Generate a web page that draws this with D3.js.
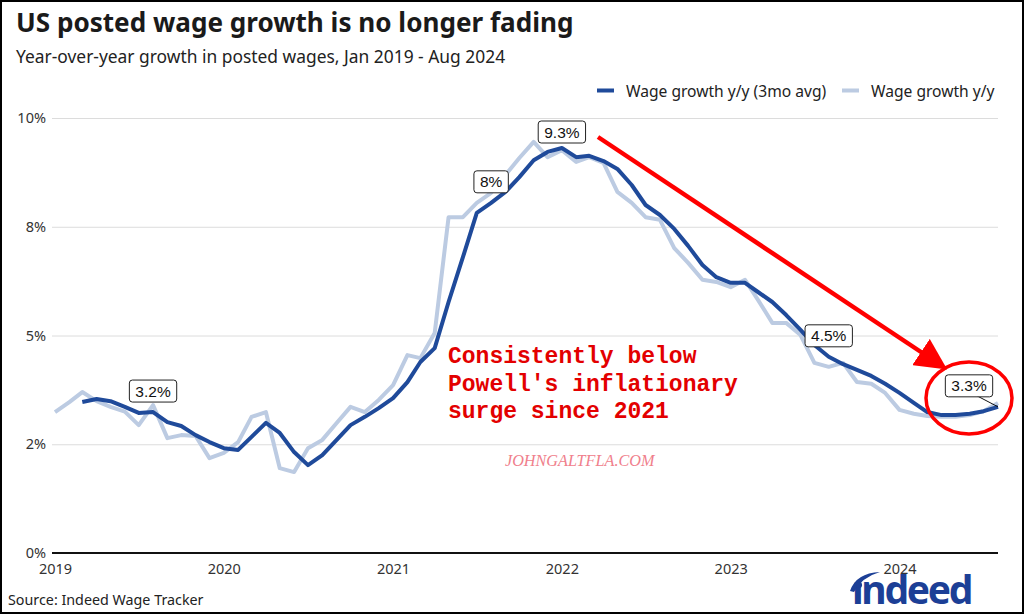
<!DOCTYPE html>
<html>
<head>
<meta charset="utf-8">
<script src="https://cdn.jsdelivr.net/npm/d3@7"></script>
<style>
  body { margin: 0; background: #fff; }
  svg { display: block; font-family: "Noto Sans", "Open Sans", sans-serif; }
</style>
</head>
<body>
<svg id="chart" width="1024" height="614"></svg>
<script>
// --- data ---
const startMonth = "2019-01";
const endMonth = "2024-08";

// monthly y/y posted wage growth, Jan 2019 - Aug 2024
const wageYoY = [3.24, 3.47, 3.70, 3.49, 3.36, 3.25, 2.94, 3.40, 2.64, 2.71, 2.69, 2.18,
  2.30, 2.55, 3.13, 3.24, 1.95, 1.86, 2.41, 2.60, 2.99, 3.36, 3.24, 3.52,
  3.86, 4.55, 4.48, 5.06, 7.72, 7.72, 8.05, 8.28, 8.69, 9.08, 9.45, 9.10,
  9.26, 8.99, 9.10, 8.97, 8.30, 8.05, 7.72, 7.66, 7.01, 6.67, 6.28, 6.23,
  6.11, 6.28, 5.82, 5.29, 5.29, 5.01, 4.37, 4.28, 4.37, 3.93, 3.89, 3.68,
  3.29, 3.20, 3.15, 3.13, 3.13, 3.17, 3.26, 3.45];

// 3-month average (starts Mar 2019)
const wage3mo = [null, null, 3.47, 3.54, 3.49, 3.36, 3.22, 3.24, 3.01, 2.92, 2.71, 2.55,
  2.41, 2.37, 2.67, 2.99, 2.76, 2.32, 2.02, 2.25, 2.60, 2.94, 3.13, 3.33,
  3.56, 3.93, 4.39, 4.71, 5.77, 6.80, 7.82, 8.05, 8.30, 8.64, 9.03, 9.22,
  9.31, 9.10, 9.13, 9.01, 8.83, 8.46, 8.00, 7.77, 7.45, 7.06, 6.62, 6.34,
  6.21, 6.21, 6.00, 5.77, 5.47, 5.13, 4.78, 4.51, 4.34, 4.21, 4.07, 3.89,
  3.68, 3.45, 3.24, 3.17, 3.17, 3.20, 3.26, 3.36];

const yTicks = [0, 2.5, 5, 7.5, 10];
const yTickLabels = ["0%", "2%", "5%", "8%", "10%"];

const calloutMonths = ["2019-08", "2021-08", "2022-01", "2023-08", "2024-08"];
const calloutTexts = ["3.2%", "8%", "9.3%", "4.5%", "3.3%"];

const legendNames = ["Wage growth y/y (3mo avg)", "Wage growth y/y"];
const legendColors = ["#1f4a9a", "#bccbe2"];

// --- setup ---
const parseMonth = d3.timeParse("%Y-%m");
const months = d3.timeMonth.range(parseMonth(startMonth), d3.timeMonth.offset(parseMonth(endMonth), 1));

const svg = d3.select("#chart");

const x = d3.scaleTime()
  .domain([parseMonth(startMonth), parseMonth(endMonth)])
  .range([55, 998]);

const y = d3.scaleLinear()
  .domain([0, 10])
  .range([553, 118]);

// title + subtitle
svg.append("text")
  .attr("x", 16).attr("y", 32)
  .attr("font-size", 26.1).attr("font-weight", 700).attr("fill", "#1a1a1a")
  .text("US posted wage growth is no longer fading");

svg.append("text")
  .attr("x", 16).attr("y", 63)
  .attr("font-size", 17.4).attr("fill", "#222")
  .text("Year-over-year growth in posted wages, Jan 2019 - Aug 2024");

// y grid + labels
const yAxis = svg.append("g")
  .attr("transform", "translate(52,0)")
  .call(d3.axisLeft(y)
    .tickValues(yTicks)
    .tickFormat((d, i) => yTickLabels[i])
    .tickSize(-(998 - 52))
    .tickPadding(6));
yAxis.select(".domain").remove();
yAxis.selectAll(".tick line").attr("stroke", "#dcdcdc").attr("stroke-width", 1);
yAxis.selectAll(".tick text")
  .attr("font-size", 14.5).attr("fill", "#333")
  .attr("font-family", "Noto Sans, sans-serif");

// x axis
const xAxis = svg.append("g")
  .attr("transform", "translate(0,553)")
  .call(d3.axisBottom(x)
    .ticks(d3.timeYear.every(1))
    .tickFormat(d3.timeFormat("%Y"))
    .tickSize(0)
    .tickPadding(11));
xAxis.select(".domain").remove();
xAxis.selectAll(".tick text")
  .attr("font-size", 14.5).attr("fill", "#333")
  .attr("font-family", "Noto Sans, sans-serif");

svg.append("line")
  .attr("x1", 52).attr("x2", 998)
  .attr("y1", y(0)).attr("y2", y(0))
  .attr("stroke", "#111").attr("stroke-width", 2);

// lines
const line = d3.line()
  .defined(d => d.v != null)
  .x(d => x(d.date))
  .y(d => y(d.v));

const lightData = months.map((date, i) => ({ date, v: wageYoY[i] }));
const darkData = months.map((date, i) => ({ date, v: wage3mo[i] }));

svg.append("path")
  .datum(lightData)
  .attr("fill", "none")
  .attr("stroke", legendColors[1])
  .attr("stroke-width", 4)
  .attr("stroke-linejoin", "round")
  .attr("d", line);

svg.append("path")
  .datum(darkData)
  .attr("fill", "none")
  .attr("stroke", legendColors[0])
  .attr("stroke-width", 4)
  .attr("stroke-linejoin", "round")
  .attr("d", line);

// legend
const legend = svg.append("g").attr("font-size", 15.6).attr("fill", "#222");
const legendX = [597, 842];
legendNames.forEach((name, i) => {
  legend.append("rect")
    .attr("x", legendX[i]).attr("y", 88.5)
    .attr("width", 17).attr("height", 4)
    .attr("fill", legendColors[i]);
  legend.append("text")
    .attr("x", legendX[i] + 29).attr("y", 96.5)
    .text(name);
});

// value callouts
calloutMonths.forEach((m, i) => {
  const idx = months.findIndex(d => +d === +parseMonth(m));
  const px = x(months[idx]);
  const py = y(wage3mo[idx]);
  let cx = px, cy = py - 21;
  if (i === 2) cy = py - 16;
  if (i === 4) {
    cx = px - 29;
    svg.append("line")
      .attr("x1", cx + 8).attr("y1", cy + 10)
      .attr("x2", px).attr("y2", py)
      .attr("stroke", "#111").attr("stroke-width", 1);
  }
  const g = svg.append("g").attr("transform", `translate(${cx},${cy})`);
  const t = g.append("text")
    .attr("text-anchor", "middle").attr("dy", "0.36em")
    .attr("font-family", "Liberation Sans, Arial, sans-serif")
    .attr("font-size", 15.5).attr("fill", "#111")
    .text(calloutTexts[i]);
  const w = t.node().getComputedTextLength() + 12;
  g.insert("rect", "text")
    .attr("x", -w / 2).attr("y", -11)
    .attr("width", w).attr("height", 22)
    .attr("rx", 3)
    .attr("fill", "#fff").attr("stroke", "#222").attr("stroke-width", 1);
});

// red annotations
svg.append("defs").append("marker")
  .attr("id", "arrowhead")
  .attr("viewBox", "0 0 10 10")
  .attr("refX", 8).attr("refY", 5)
  .attr("markerWidth", 7).attr("markerHeight", 7)
  .attr("markerUnits", "strokeWidth")
  .attr("orient", "auto")
  .append("path")
  .attr("d", "M0,0 L10,5 L0,10 Z")
  .attr("fill", "#f00");

svg.append("line")
  .attr("x1", 598).attr("y1", 137)
  .attr("x2", 942).attr("y2", 366)
  .attr("stroke", "#f00").attr("stroke-width", 4.5)
  .attr("marker-end", "url(#arrowhead)");

svg.append("ellipse")
  .attr("cx", 969).attr("cy", 398)
  .attr("rx", 43).attr("ry", 36)
  .attr("fill", "none").attr("stroke", "#f00").attr("stroke-width", 3.5);

const note = svg.append("text")
  .attr("font-family", "Liberation Mono, Courier New, monospace")
  .attr("font-weight", 700).attr("font-size", 23).attr("fill", "#e30000");
["Consistently below", "Powell's inflationary", "surge since 2021"].forEach((s, i) => {
  note.append("tspan").attr("x", 448).attr("y", 363 + i * 27.5).text(s);
});

svg.append("text")
  .attr("x", 505).attr("y", 466)
  .attr("font-family", "Liberation Serif, serif").attr("font-style", "italic")
  .attr("font-size", 16.2).attr("fill", "#f0808c")
  .text("JOHNGALTFLA.COM");

// source + logo
svg.append("text")
  .attr("x", 8).attr("y", 605)
  .attr("font-size", 14.3).attr("fill", "#222")
  .text("Source: Indeed Wage Tracker");

const logo = svg.append("g").attr("fill", "#1c3f96");
logo.append("text")
  .attr("x", 852).attr("y", 604)
  .attr("font-family", "Noto Sans, sans-serif").attr("font-weight", 700)
  .attr("font-size", 39).attr("letter-spacing", -2.3)
  .text("\u0131ndeed");
logo.append("path")
  .attr("d", "M850,591 Q856,573 880,572 Q862,577 854,592 Z")
  .attr("fill", "#1c3f96");
logo.append("circle").attr("cx", 859).attr("cy", 585).attr("r", 3.1);

// frame
svg.append("rect")
  .attr("x", 1).attr("y", 1).attr("width", 1022).attr("height", 612)
  .attr("fill", "none").attr("stroke", "#000").attr("stroke-width", 2);
</script>
</body>
</html>
